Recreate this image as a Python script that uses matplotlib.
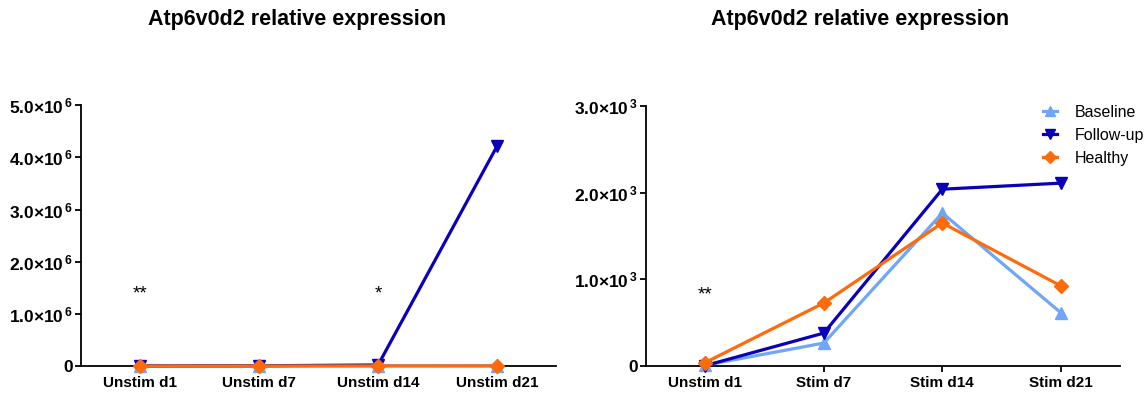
import matplotlib
matplotlib.use("Agg")
import matplotlib.pyplot as plt

plt.rcParams['font.family'] = ['Liberation Sans', 'DejaVu Sans']
plt.rcParams['mathtext.fontset'] = 'custom'
plt.rcParams['mathtext.rm'] = 'Liberation Sans'
plt.rcParams['mathtext.bf'] = 'Liberation Sans:bold'

title = "Atp6v0d2 relative expression"

left_categories = ["Unstim d1", "Unstim d7", "Unstim d14", "Unstim d21"]
left_baseline = [2000, 3000, 8000, 5000]
left_followup = [3000, 5000, 20000, 4210000]
left_healthy = [1000, 1500, 2000, 2500]
left_yticks = [0, 1e6, 2e6, 3e6, 4e6, 5e6]
left_yticklabels = ["0", r"$\mathbf{1.0{\times}10^{\,6}}$", r"$\mathbf{2.0{\times}10^{\,6}}$",
                    r"$\mathbf{3.0{\times}10^{\,6}}$", r"$\mathbf{4.0{\times}10^{\,6}}$",
                    r"$\mathbf{5.0{\times}10^{\,6}}$"]
left_stars = [("**", 0, 1.38e6), ("*", 2, 1.38e6)]

right_categories = ["Unstim d1", "Stim d7", "Stim d14", "Stim d21"]
right_baseline = [10, 265, 1765, 615]
right_followup = [5, 380, 2040, 2110]
right_healthy = [40, 727, 1650, 925]
right_yticks = [0, 1000, 2000, 3000]
right_yticklabels = ["0", r"$\mathbf{1.0{\times}10^{\,3}}$", r"$\mathbf{2.0{\times}10^{\,3}}$",
                     r"$\mathbf{3.0{\times}10^{\,3}}$"]
right_stars = [("**", 0, 820)]

series_names = ["Baseline", "Follow-up", "Healthy"]
colors = ["#6fa6f7", "#0a00b8", "#ff6a0a"]
markers = ["^", "v", "D"]

fig = plt.figure(figsize=(11.48, 3.94), dpi=100)
ax1 = fig.add_axes([0.0706, 0.071, 0.414, 0.662])
ax2 = fig.add_axes([0.5627, 0.071, 0.413, 0.660])

def style(ax, cats, yticks, ylabels, ymax):
    x = list(range(len(cats)))
    ax.set_xlim(-0.5, len(cats) - 0.5)
    ax.set_ylim(0, ymax)
    ax.set_xticks(x)
    ax.set_xticklabels(cats, fontsize=11, fontweight='bold')
    ax.set_yticks(yticks)
    ax.set_yticklabels(ylabels, fontsize=12.5, fontweight='bold')
    for s in ['top', 'right']:
        ax.spines[s].set_visible(False)
    for s in ['left', 'bottom']:
        ax.spines[s].set_linewidth(1.3)
    ax.tick_params(axis='y', length=4, width=1.3, pad=2)
    ax.tick_params(axis='x', length=4, width=1.3, pad=3)

for ax, cats, data in [
    (ax1, left_categories, [left_baseline, left_followup, left_healthy]),
    (ax2, right_categories, [right_baseline, right_followup, right_healthy]),
]:
    x = list(range(len(cats)))
    for name, vals, c, m in zip(series_names, data, colors, markers):
        ax.plot(x, vals, color=c, marker=m, markersize=8 if m != "D" else 7,
                linewidth=2.3, label=name, clip_on=False, zorder=3)

style(ax1, left_categories, left_yticks, left_yticklabels, 5e6)
style(ax2, right_categories, right_yticks, right_yticklabels, 3000)

fig.text(0.0706 + 0.414 * 0.455, 1 - 20 / 394, title, ha='center', va='center',
         fontsize=15.5, fontweight='bold')
fig.text(0.5627 + 0.413 * 0.451, 1 - 20 / 394, title, ha='center', va='center',
         fontsize=15.5, fontweight='bold')

for ax, stars in [(ax1, left_stars), (ax2, right_stars)]:
    for txt, xi, yv in stars:
        ax.text(xi, yv, txt, ha='center', va='center', fontsize=13.5)

ax2.legend(loc='upper right', bbox_to_anchor=(1.08, 1.06), frameon=False,
           fontsize=11.5, handlelength=0.85, handletextpad=1.1, labelspacing=0.5,
           markerscale=0.85)

fig.savefig("out.png", dpi=100)
